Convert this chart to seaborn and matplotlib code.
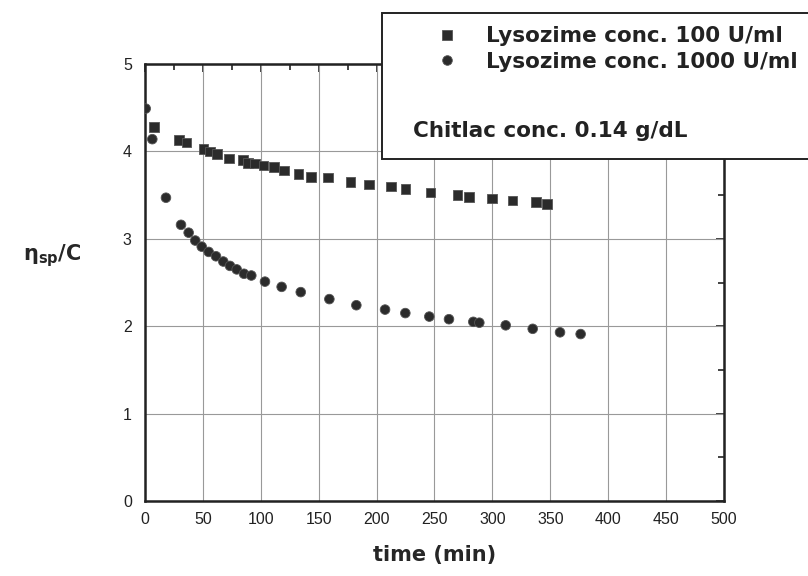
import numpy as np
import pandas as pd
import matplotlib
matplotlib.use("Agg")
import matplotlib.pyplot as plt
import seaborn as sns
from matplotlib.patches import Rectangle
from matplotlib.ticker import MultipleLocator

# Reduced viscosity vs time, lysozyme 100 U/ml
t_100 = [8.0, 29.6, 36.0, 50.4, 56.1, 62.4, 72.5, 84.4, 89.2, 95.0, 102.2,
         111.4, 120.3, 132.7, 143.6, 158.0, 177.6, 193.7, 212.4, 224.8,
         246.7, 269.7, 279.8, 299.7, 317.2, 337.4, 346.9]
eta_100 = [4.28, 4.13, 4.10, 4.03, 4.00, 3.97, 3.92, 3.90, 3.87, 3.86, 3.84,
           3.82, 3.78, 3.74, 3.71, 3.70, 3.65, 3.62, 3.60, 3.57,
           3.53, 3.50, 3.48, 3.46, 3.44, 3.42, 3.40]

# Reduced viscosity vs time, lysozyme 1000 U/ml
t_1000 = [0.6, 6.3, 18.1, 31.1, 37.7, 43.4, 49.0, 55.0, 61.3, 67.6, 73.4,
          79.2, 85.5, 91.8, 103.6, 118.0, 134.5, 159.2, 182.5, 207.3, 224.8,
          245.5, 262.5, 283.5, 288.7, 311.5, 334.8, 358.4, 376.2]
eta_1000 = [4.49, 4.14, 3.47, 3.16, 3.07, 2.98, 2.91, 2.85, 2.80, 2.74, 2.69,
            2.65, 2.60, 2.58, 2.51, 2.45, 2.39, 2.31, 2.24, 2.19, 2.15,
            2.11, 2.08, 2.05, 2.04, 2.01, 1.97, 1.93, 1.91]

series_labels = ["Lysozime conc. 100 U/ml", "Lysozime conc. 1000 U/ml"]
x_ticks = [0, 50, 100, 150, 200, 250, 300, 350, 400, 450, 500]
y_ticks = [0, 1, 2, 3, 4, 5]

df = pd.DataFrame({
    "time": t_100 + t_1000,
    "eta": eta_100 + eta_1000,
    "series": [series_labels[0]] * len(t_100) + [series_labels[1]] * len(t_1000),
})

sns.set_style("white")
plt.rcParams["font.family"] = ["Liberation Sans", "DejaVu Sans"]
plt.rcParams["mathtext.fontset"] = "dejavusans"

fig = plt.figure(figsize=(8.08, 5.76), dpi=100)
ax = fig.add_axes([145 / 808, 1 - 501 / 576, 579 / 808, 437 / 576])

sns.scatterplot(data=df, x="time", y="eta", hue="series", style="series",
                markers={series_labels[0]: "s", series_labels[1]: "o"},
                palette={series_labels[0]: "#2b2b2b", series_labels[1]: "#2b2b2b"},
                s=48, edgecolor="#555555", linewidth=0.6, ax=ax, legend=True, zorder=3)

ax.set_xlim(0, 500)
ax.set_ylim(0, 5)
ax.set_xticks(x_ticks)
ax.set_yticks(y_ticks)
ax.xaxis.set_minor_locator(MultipleLocator(25))
ax.yaxis.set_minor_locator(MultipleLocator(0.5))
ax.grid(True, which="major", color="#999999", linewidth=0.8, zorder=0)
for sp in ax.spines.values():
    sp.set_color("#222222")
    sp.set_linewidth(1.8)
ax.tick_params(which="both", direction="out", colors="#222222", labelsize=11.5, width=1.2)
ax.tick_params(which="major", length=6)
ax.tick_params(which="minor", length=4)
ax.tick_params(axis="x", pad=2)

# Inward ticks on the top and right frame edges
top = ax.secondary_xaxis("top")
top.set_xticks(x_ticks, labels=[])
top.xaxis.set_minor_locator(MultipleLocator(25))
top.tick_params(which="both", direction="in", width=1.2, colors="#222222")
top.tick_params(which="major", length=6)
top.tick_params(which="minor", length=4)
right = ax.secondary_yaxis("right")
right.set_yticks(y_ticks, labels=[])
right.yaxis.set_minor_locator(MultipleLocator(0.5))
right.tick_params(which="both", direction="in", width=1.2, colors="#222222")
right.tick_params(which="major", length=6)
right.tick_params(which="minor", length=4)

ax.set_xlabel("time (min)", fontsize=15, fontweight="bold", family=["DejaVu Sans"], labelpad=13)
ax.set_ylabel(r"$\mathbf{\eta_{sp}}$/C", fontsize=15, fontweight="bold", rotation=0,
              family=["DejaVu Sans"])
ax.yaxis.set_label_coords(-0.16, 0.53)

# Legend panel overlapping the top-right corner
handles, labels = ax.get_legend_handles_labels()
ax.get_legend().remove()
box = Rectangle((382 / 808, 1 - 159 / 576), 0.6, 146 / 576, transform=fig.transFigure,
                facecolor="white", edgecolor="#222222", linewidth=1.4, zorder=10)
fig.patches.append(box)
leg = fig.legend(handles, labels, loc="upper left", bbox_to_anchor=(406 / 808, 1 - 7 / 576),
                 frameon=False, prop={"family": "DejaVu Sans", "weight": "bold", "size": 15.5},
                 handletextpad=0.8, labelspacing=0.25, markerscale=1.0)
leg.set_zorder(11)
for txt in leg.get_texts():
    txt.set_color("#222222")
fig.text(413 / 808, 1 - 131 / 576, "Chitlac conc. 0.14 g/dL", fontsize=15.5, fontweight="bold",
         family=["DejaVu Sans"], va="center", ha="left", zorder=12, color="#222222")

fig.savefig("out.png", dpi=100)
